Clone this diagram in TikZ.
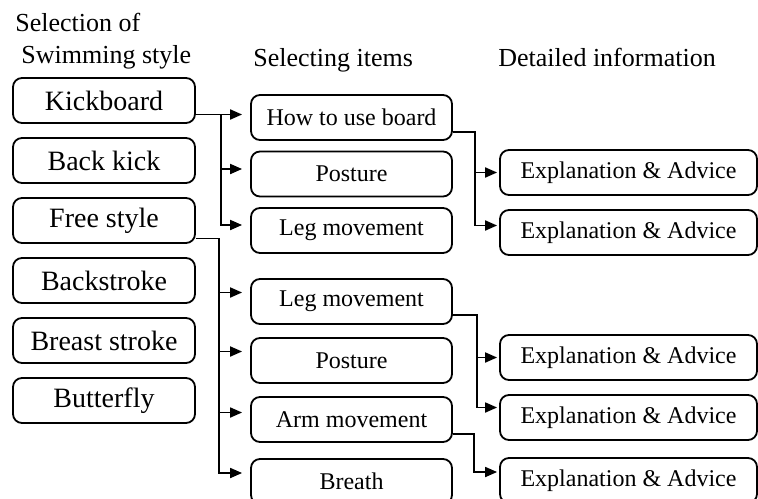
\documentclass[tikz,border=0pt]{standalone}
\usepackage{fontspec}
\setmainfont{Liberation Serif}
\usepackage{tikz}
\usetikzlibrary{calc,positioning,arrows.meta}
\tikzset{
  sel/.style={rectangle, draw=black, line width=0.9pt, rounded corners=4.5pt, minimum width=91pt, minimum height=22.5pt, text centered, font=\fontsize{14}{16}\selectfont},
  itm/.style={rectangle, draw=black, line width=0.9pt, rounded corners=4.5pt, minimum width=100.5pt, minimum height=22.5pt, text centered, font=\fontsize{12}{14}\selectfont},
  det/.style={rectangle, draw=black, line width=0.9pt, rounded corners=4.5pt, minimum width=128.5pt, minimum height=22.5pt, text centered, font=\fontsize{12}{14}\selectfont},
  hd/.style={anchor=base west, inner sep=0pt, font=\fontsize{13}{15}\selectfont},
  line/.style={draw, line width=0.9pt, -{Triangle[length=6pt,width=5pt]}, shorten >=4pt},
  line2/.style={line, shorten >=1pt},
}
\begin{document}
\begin{tikzpicture}[x=0.5pt,y=-0.5pt]
    \useasboundingbox (0,0) rectangle (758,498);

    % column titles
    \node[hd] (hsel) at (15,32) {Selection of};
    \node[hd] (hswim) at (21,63) {Swimming style};
    \node[hd] (hitem) at (253,66) {Selecting items};
    \node[hd] (hinfo) at (498,66) {Detailed information};

    % swimming styles
    \node[sel] (kick) at (104,100.5) {Kickboard};
    \node[sel,below of=kick,node distance=30pt] (back) {Back kick};
    \node[sel,below of=back,node distance=30pt] (free) {Free style};
    \node[sel,below of=free,node distance=30pt] (bstroke) {Backstroke};
    \node[sel,below of=bstroke,node distance=30pt] (breast) {Breast stroke};
    \node[sel,below of=breast,node distance=30pt] (fly) {Butterfly};

    % items
    \node[itm] (how) at (351.5,117.5) {How to use board};
    \node[itm,below of=how,node distance=28.25pt] (post1) {Posture};
    \node[itm,below of=post1,node distance=28.25pt] (leg1) {Leg movement};

    \node[itm] (leg2) at (351.5,301.5) {Leg movement};
    \node[itm,below of=leg2,node distance=29.5pt] (post2) {Posture};
    \node[itm,below of=post2,node distance=29.5pt] (arm) {Arm movement};
    \node[itm,below of=arm,node distance=31pt] (breath) {Breath};

    % detailed information
    \node[det] (exp1) at (628.5,172.5) {Explanation \& Advice};
    \node[det,below of=exp1,node distance=30pt] (exp2) {Explanation \& Advice};
    \node[det] (exp3) at (628.5,357.5) {Explanation \& Advice};
    \node[det,below of=exp3,node distance=30pt] (exp4) {Explanation \& Advice};
    \node[det,below of=exp4,node distance=31.5pt] (exp5) {Explanation \& Advice};

    % branch points
    \path (kick.east) ++(12.5pt,-7pt) coordinate (kv);
    \path (free.east) ++(11.5pt,-9pt) coordinate (fv);
    \path (how.east) ++(11pt,-7.25pt) coordinate (hv);
    \path (leg2.east) ++(12pt,-6.75pt) coordinate (lv);
    \path (arm.east) ++(10.5pt,-7.25pt) coordinate (av);

    \begin{scope}[every path/.style=line]
      \path (kick.east |- kv) -- (how.west |- kv);
      \path (kv) |- ([yshift=2.5pt]post1.west);
      \path (kv) |- ([yshift=2.75pt]leg1.west);

      \path (free.east |- fv) -- (fv) |- ([yshift=4.5pt]leg2.west);
      \path (fv) |- ([yshift=4.5pt]post2.west);
      \path (fv) |- ([yshift=3.5pt]arm.west);
      \path (fv) |- ([yshift=4.25pt]breath.west);

      \path[line2] (how.east |- hv) -- (hv) |- (exp1.west);
      \path[line2] (hv) |- ([yshift=3.5pt]exp2.west);
      \path[line2] (leg2.east |- lv) -- (lv) |- (exp3.west);
      \path[line2] (lv) |- ([yshift=5pt]exp4.west);
      \path[line2] (arm.east |- av) -- (av) |- ([yshift=4.25pt]exp5.west);
    \end{scope}

\end{tikzpicture}
\end{document}
